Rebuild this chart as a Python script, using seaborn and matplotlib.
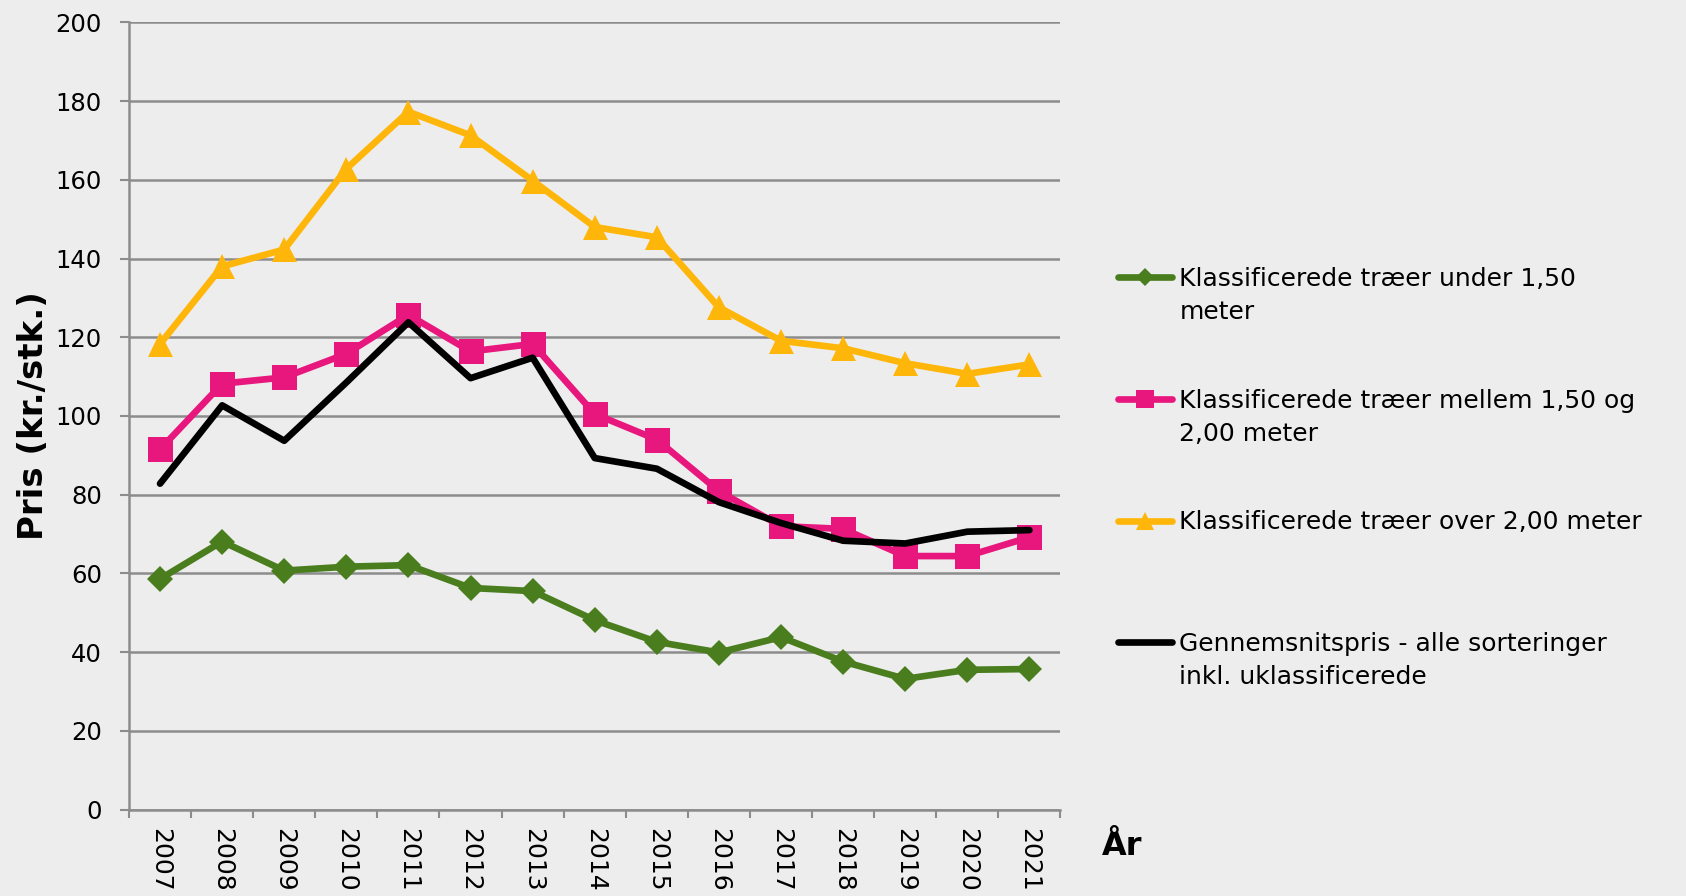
import numpy as np
import pandas as pd
import matplotlib
matplotlib.use("Agg")
import matplotlib.pyplot as plt
import seaborn as sns
from matplotlib.legend_handler import HandlerLine2D
from matplotlib.ticker import MultipleLocator

years = [2007, 2008, 2009, 2010, 2011, 2012, 2013, 2014, 2015, 2016, 2017, 2018, 2019, 2020, 2021]
under_150 = [58.6, 68.1, 60.7, 61.7, 62.1, 56.3, 55.5, 48.1, 42.6, 39.9, 43.8, 37.6, 33.2, 35.5, 35.7]
mellem_150_200 = [91.5, 108.2, 109.8, 115.8, 125.7, 116.4, 118.3, 100.5, 94.0, 80.9, 72.0, 71.3, 64.4, 64.4, 69.2]
over_200 = [118.3, 138.0, 142.3, 162.8, 177.3, 171.3, 159.8, 148.0, 145.4, 127.6, 119.1, 117.2, 113.4, 110.7, 113.1]
gennemsnit = [82.8, 102.7, 93.7, 108.5, 123.8, 109.6, 114.8, 89.3, 86.6, 78.1, 72.8, 68.3, 67.6, 70.6, 71.0]

labels = ["Klassificerede træer under 1,50\nmeter",
          "Klassificerede træer mellem 1,50 og\n2,00 meter",
          "Klassificerede træer over 2,00 meter\n",
          "Gennemsnitspris - alle sorteringer\ninkl. uklassificerede"]

bg = "#ededed"
grid_col = "#8c8c8c"

sns.set_style("white")
plt.rcParams["font.family"] = ["DejaVu Sans"]
plt.rcParams["text.color"] = "black"
plt.rcParams["axes.labelcolor"] = "black"
plt.rcParams["xtick.labelcolor"] = "black"
plt.rcParams["ytick.labelcolor"] = "black"

fig = plt.figure(figsize=(16.86, 8.96), dpi=100, facecolor=bg)
ax = fig.add_axes([0.0765, 0.0965, 0.5525, 0.8785])
ax.set_facecolor(bg)

df = pd.DataFrame({"year": years, "under": under_150, "mellem": mellem_150_200,
                   "over": over_200, "snit": gennemsnit})

# serier i samme rækkefølge som i Excel, sort linje øverst
series = [("under", "#4a7d1e", "D", 13.5),
          ("mellem", "#e8177d", "s", 18),
          ("over", "#ffb60a", "^", 18),
          ("snit", "black", None, 0)]
for col, color, marker, ms in series:
    sns.lineplot(data=df, x="year", y=col, color=color, marker=marker, markersize=ms,
                 markeredgewidth=0, linewidth=4.8, ax=ax, zorder=3,
                 solid_joinstyle="miter" if marker else "round", solid_capstyle="round")

ax.set_ylim(0, 200)
ax.set_xlim(years[0] - 0.5, years[-1] + 0.5)
ax.yaxis.set_major_locator(MultipleLocator(20))
ax.set_xticks(years)
ax.set_xticklabels([str(y) for y in years], rotation=-90)
ax.set_xticks([y - 0.5 for y in years] + [years[-1] + 0.5], minor=True)

ax.grid(axis="y", color=grid_col, linewidth=1.8)
ax.set_axisbelow(True)
for s in ["top", "right"]:
    ax.spines[s].set_visible(False)
for s in ["left", "bottom"]:
    ax.spines[s].set_color(grid_col)
    ax.spines[s].set_linewidth(1.8)

ax.tick_params(axis="y", left=True, length=6.5, width=1.5, color=grid_col, pad=13, labelsize=17.5,
               labelcolor="black")
ax.tick_params(axis="x", which="major", length=0, pad=13.3, labelsize=18, labelcolor="black")
ax.tick_params(axis="x", which="minor", bottom=True, length=6, width=1.5, color=grid_col)

ax.set_ylabel("Pris (kr./stk.)", fontsize=24.5, fontweight="bold", color="black")
ax.yaxis.set_label_coords(-0.085, 0.5)
ax.set_xlabel("År", fontsize=23, fontweight="bold", ha="left", va="center", color="black")
ax.xaxis.set_label_coords(1.044, -0.047)


class FirstLineHandler(HandlerLine2D):
    # løfter symbolet op til første tekstlinje
    def __init__(self, lift, **kw):
        super().__init__(**kw)
        self.lift = lift

    def create_artists(self, legend, orig_handle, xdescent, ydescent, width, height, fontsize, trans):
        return super().create_artists(legend, orig_handle, xdescent, ydescent - 2 * self.lift,
                                      width, height, fontsize, trans)


handles = ax.lines[:4]
leg = fig.legend(handles, labels, loc="upper left", bbox_to_anchor=(0.663, 0.702),
                 frameon=False, fontsize=18, borderpad=0, borderaxespad=0,
                 handlelength=2.16, handletextpad=0.3, labelspacing=2.58, markerscale=0.7,
                 labelcolor="black",
                 handler_map={h: FirstLineHandler(13.7) for h in handles})
for t in leg.get_texts():
    t.set_linespacing(1.48)

fig.savefig("out.png", dpi=100, facecolor=bg)
